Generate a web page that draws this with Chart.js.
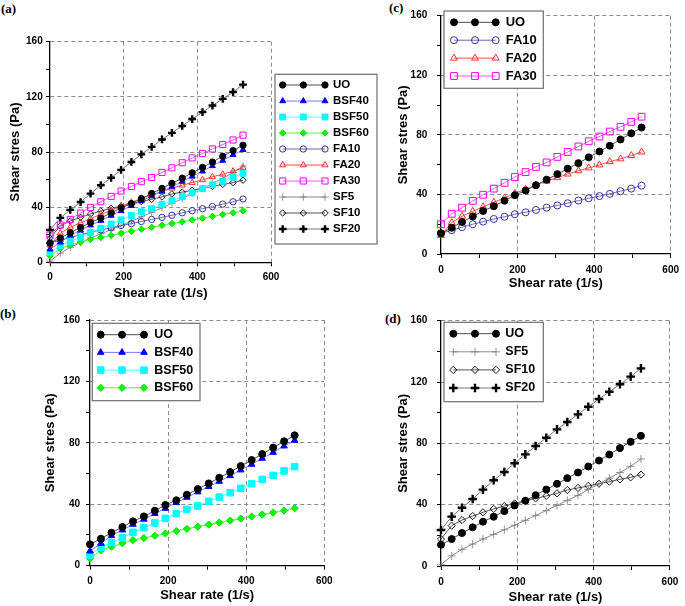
<!DOCTYPE html>
<html>
<head>
<meta charset="utf-8">
<script src="https://cdn.jsdelivr.net/npm/chart.js@4.4.1/dist/chart.umd.min.js"></script>
<style>
  body { margin: 0; background: #fff; width: 685px; height: 606px; position: relative; overflow: hidden; }
  canvas { position: absolute; }
  .tag { position: absolute; font: bold 13px "Liberation Serif", "Times New Roman", serif; color: #000; }
</style>
</head>
<body>
<div class="tag" style="left:1px;top:1px">(a)</div>
<div class="tag" style="left:0px;top:306px">(b)</div>
<div class="tag" style="left:389px;top:0px">(c)</div>
<div class="tag" style="left:385px;top:311px">(d)</div>

<canvas id="chartA" width="385" height="285" style="left:0;top:20px"></canvas>
<canvas id="chartB" width="340" height="306" style="left:0;top:300px"></canvas>
<canvas id="chartC" width="305" height="300" style="left:380px;top:0"></canvas>
<canvas id="chartD" width="305" height="306" style="left:380px;top:300px"></canvas>

<script>
// shear rate (1/s), same for every sample
const shearRate = [0, 28, 55, 83, 110, 138, 166, 193, 221, 248, 276, 304, 331, 359, 386, 414, 441, 469, 497, 524];

// shear stress (Pa)
const uo    = [13.9, 17.6, 21.5, 25.2, 28.9, 32.1, 35.8, 39.5, 42.6, 46.2, 49.9, 53.6, 57.3, 61.0, 64.9, 68.8, 72.7, 76.9, 81.0, 84.9];
const bsf40 = [9.5, 14.5, 19.5, 23.2, 26.9, 30.2, 33.9, 37.3, 41.0, 44.5, 48.0, 51.5, 54.9, 58.6, 62.3, 66.0, 69.9, 73.8, 77.9, 81.6];
const bsf50 = [7.0, 12.0, 15.0, 18.2, 21.7, 24.7, 27.8, 30.8, 33.9, 36.7, 38.9, 41.9, 44.7, 47.5, 50.4, 53.4, 56.2, 58.8, 61.7, 64.5];
const bsf60 = [4.8, 10.0, 12.4, 14.7, 16.6, 18.0, 19.5, 21.0, 22.6, 24.0, 25.4, 26.8, 28.1, 29.4, 30.7, 32.0, 33.3, 34.6, 35.9, 37.4];
const fa10  = [13.9, 16.0, 18.0, 20.0, 21.7, 23.5, 25.0, 26.7, 28.0, 29.6, 31.1, 32.6, 34.1, 35.9, 37.4, 38.9, 40.4, 42.2, 43.9, 45.9];
const fa20  = [12.5, 21.1, 25.4, 28.7, 31.7, 34.8, 37.6, 40.7, 43.5, 46.3, 48.9, 51.3, 53.7, 55.9, 57.8, 59.8, 62.0, 63.9, 66.1, 68.5];
const fa30  = [20.0, 27.0, 31.1, 35.7, 39.8, 43.9, 47.8, 51.7, 55.0, 58.5, 61.5, 65.2, 68.5, 72.2, 75.7, 78.9, 82.2, 85.4, 88.7, 92.2];
const sf5   = [0.8, 6.6, 10.9, 14.3, 17.6, 20.6, 23.6, 26.6, 29.8, 33.0, 36.2, 39.5, 42.8, 46.1, 49.9, 53.6, 57.3, 61.0, 65.0, 69.8];
const sf10  = [17.6, 26.3, 30.0, 32.6, 35.0, 37.2, 39.1, 40.8, 42.6, 44.1, 45.7, 47.4, 49.6, 50.9, 52.2, 53.7, 55.0, 56.5, 57.8, 59.6];
const sf20  = [23.5, 32.2, 38.0, 43.7, 49.8, 55.9, 61.3, 67.0, 72.8, 78.3, 83.7, 89.1, 93.9, 98.9, 103.9, 108.9, 113.7, 118.5, 123.5, 128.9];

const xTicks = [0, 200, 400, 600];
const yTicks = [0, 40, 80, 120, 160];

const FONT = '"Liberation Sans", Arial, sans-serif';
const GRID = '#8c8c8c';

// marker / line look of each sample
const looks = {
  UO:    { ps: 'circle',  fill: '#000', edge: '#000', r: 3.5, pbw: 1, line: '#4d4d4d' },
  BSF40: { ps: 'triangle', fill: '#0000ff', edge: '#0000ff', r: 3.8, pbw: 1, line: '#7b7bff' },
  BSF50: { ps: 'rect', fill: '#00ffff', edge: '#00ffff', r: 4.6, pbw: 1, line: '#55ffff' },
  BSF60: { ps: 'rectRot', fill: '#00ff00', edge: '#00e000', r: 3.6, pbw: 1, line: '#44ff44' },
  FA10:  { ps: 'circle', fill: 'rgba(0,0,0,0)', edge: '#33339a', r: 3.5, pbw: 1, line: '#6868b0' },
  FA20:  { ps: 'triangle', fill: 'rgba(0,0,0,0)', edge: '#ff3030', r: 4, pbw: 1, line: '#ff5050' },
  FA30:  { ps: 'rect', fill: 'rgba(0,0,0,0)', edge: '#ff00ff', r: 4.8, pbw: 1, line: '#ff55ff' },
  SF5:   { ps: 'cross', fill: 'rgba(0,0,0,0)', edge: '#7a7a7a', r: 4, pbw: 0.8, line: '#8a8a8a' },
  SF10:  { ps: 'rectRot', fill: 'rgba(0,0,0,0)', edge: '#000', r: 3.6, pbw: 0.9, line: '#555' },
  SF20:  { ps: 'cross', fill: 'rgba(0,0,0,0)', edge: '#000', r: 4.3, pbw: 2.4, line: '#777' }
};

function series(label, values, k) {
  const st = looks[label];
  return {
    label: label,
    data: shearRate.map((x, i) => ({ x: x, y: values[i] })),
    borderColor: st.line,
    borderWidth: 1,
    pointStyle: st.ps,
    pointRadius: st.r * k,
    pointBackgroundColor: st.fill,
    pointBorderColor: st.edge,
    pointBorderWidth: st.pbw,
    tension: 0,
    clip: false
  };
}

// framed legend with three markers per row, like the original
const boxLegend = {
  id: 'boxLegend',
  afterDraw(chart, args, o) {
    const ctx = chart.ctx;
    ctx.save();
    ctx.fillStyle = '#fff';
    ctx.fillRect(o.x, o.y, o.w, o.h);
    ctx.strokeStyle = '#6e6e6e';
    ctx.lineWidth = 1.2;
    ctx.strokeRect(o.x, o.y, o.w, o.h);
    chart.data.datasets.forEach((ds, i) => {
      const y = o.row0 + i * o.step;
      ctx.strokeStyle = ds.borderColor;
      ctx.lineWidth = ds.borderWidth;
      ctx.beginPath();
      ctx.moveTo(o.mx[0], y);
      ctx.lineTo(o.mx[2], y);
      ctx.stroke();
      o.mx.forEach(mx => {
        ctx.fillStyle = ds.pointBackgroundColor;
        ctx.strokeStyle = ds.pointBorderColor;
        ctx.lineWidth = ds.pointBorderWidth;
        Chart.helpers.drawPoint(ctx, { pointStyle: ds.pointStyle, radius: ds.pointRadius, borderWidth: ds.pointBorderWidth, rotation: 0 }, mx, y);
      });
      ctx.fillStyle = '#000';
      ctx.font = 'bold ' + o.size + 'px ' + FONT;
      ctx.textBaseline = 'middle';
      ctx.textAlign = 'left';
      ctx.fillText(ds.label, o.tx, y);
    });
    ctx.restore();
  }
};

function makePanel(id, datasets, p) {
  new Chart(document.getElementById(id), {
    type: 'line',
    data: { datasets: datasets },
    options: {
      responsive: false,
      animation: false,
      layout: { padding: { left: 0, top: p.top, right: p.right, bottom: 0 } },
      plugins: { legend: { display: false }, tooltip: { enabled: false }, boxLegend: p.legend },
      scales: {
        x: {
          type: 'linear', min: 0, max: 600,
          ticks: {
            stepSize: 100, autoSkip: false, maxRotation: 0, color: '#000', padding: p.xtpad,
            font: { family: FONT, weight: 'bold', size: p.tick },
            callback: v => xTicks.includes(v) ? v : ''
          },
          grid: {
            color: c => (c.tick && c.tick.value > 0 && xTicks.includes(c.tick.value)) ? GRID : 'rgba(0,0,0,0)',
            tickColor: '#000', tickLength: 4, lineWidth: 1
          },
          border: { color: '#000', width: 1.3, dash: [4, 3] },
          title: {
            display: true, text: 'Shear rate (1/s)', color: '#000',
            font: { family: FONT, weight: 'bold', size: 13 }, padding: { top: 0, bottom: p.xtitle }
          },
          afterFit: s => { s.height = p.xh; }
        },
        y: {
          min: 0, max: 160,
          ticks: {
            stepSize: 20, color: '#000', padding: p.ytpad,
            font: { family: FONT, weight: 'bold', size: p.tick },
            callback: v => yTicks.includes(v) ? v : ''
          },
          grid: {
            color: c => (c.tick && c.tick.value > 0 && yTicks.includes(c.tick.value)) ? GRID : 'rgba(0,0,0,0)',
            tickColor: '#000', tickLength: 4, lineWidth: 1
          },
          border: { color: '#000', width: 1.3, dash: [4, 3] },
          title: {
            display: true, text: 'Shear stres (Pa)', color: '#000',
            font: { family: FONT, weight: 'bold', size: 13 }, padding: { top: p.ytitle, bottom: 0 }
          },
          afterFit: s => { s.width = p.yw; }
        }
      }
    },
    plugins: [boxLegend]
  });
}

// (a) all samples
makePanel('chartA', [
  series('UO', uo, 0.9), series('BSF40', bsf40, 0.9), series('BSF50', bsf50, 0.9),
  series('BSF60', bsf60, 0.9), series('FA10', fa10, 0.9), series('FA20', fa20, 0.9),
  series('FA30', fa30, 0.9), series('SF5', sf5, 0.9), series('SF10', sf10, 0.9), series('SF20', sf20, 0.9)
], {
  top: 21.7, right: 114, xh: 42.7, yw: 50, tick: 10, xtpad: 5.4, ytpad: 3.3, xtitle: 4.2, ytitle: 7.2,
  legend: { x: 275, y: 54.3, w: 102, h: 169.7, row0: 65, step: 16, mx: [282.7, 303.3, 325], tx: 333, size: 11.5 }
});

// (b) bio-based samples
makePanel('chartB', [
  series('UO', uo, 1), series('BSF40', bsf40, 1), series('BSF50', bsf50, 1), series('BSF60', bsf60, 1)
], {
  top: 20, right: 15.7, xh: 40.3, yw: 90, tick: 10, xtpad: 6, ytpad: 6, xtitle: 3.2, ytitle: 42.2,
  legend: { x: 92.3, y: 23.3, w: 107.7, h: 77.4, row0: 34.7, step: 17.7, mx: [100.7, 122, 144], tx: 154.3, size: 12.5 }
});

// (c) FA samples
makePanel('chartC', [
  series('UO', uo, 1), series('FA10', fa10, 1), series('FA20', fa20, 1), series('FA30', fa30, 1)
], {
  top: 8, right: 10, xh: 46, yw: 61, tick: 10, xtpad: 6, ytpad: 9.7, xtitle: 8.9, ytitle: 15.5,
  legend: { x: 64, y: 11, w: 99.3, h: 77.3, row0: 22.3, step: 17.9, mx: [74, 95, 115.7], tx: 125.7, size: 13 }
});

// (d) SF samples
makePanel('chartD', [
  series('UO', uo, 1), series('SF5', sf5, 1), series('SF10', sf10, 1), series('SF20', sf20, 1)
], {
  top: 20.7, right: 10, xh: 40, yw: 61, tick: 10, xtpad: 6.7, ytpad: 9.7, xtitle: 0.5, ytitle: 15.5,
  legend: { x: 64, y: 22.3, w: 99.3, h: 79.4, row0: 33.7, step: 18.1, mx: [73.3, 95, 116], tx: 125.3, size: 12.5 }
});
</script>
</body>
</html>
